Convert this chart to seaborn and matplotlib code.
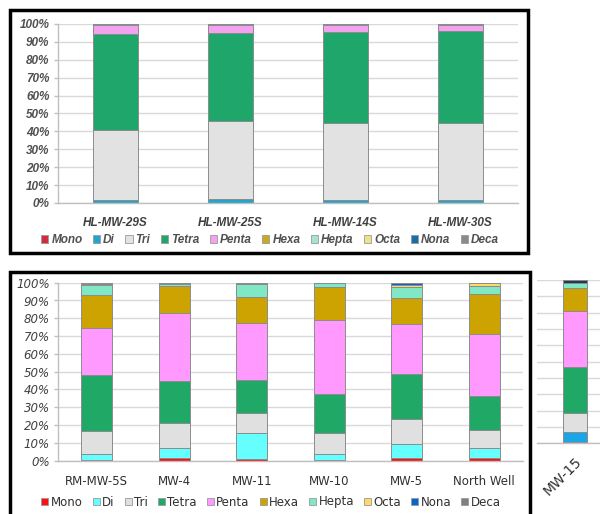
import numpy as np
import pandas as pd
import matplotlib
matplotlib.use("Agg")
import matplotlib.pyplot as plt
import seaborn as sns
from matplotlib.patches import Patch, Rectangle

sns.set_theme(style="white")
plt.rcParams["font.family"] = ["DejaVu Sans"]

W, H = 600, 514

# ---------------- data ----------------
groups = ["Mono", "Di", "Tri", "Tetra", "Penta", "Hexa", "Hepta", "Octa", "Nona", "Deca"]

# top panel (percent of total)
top_samples = ["HL-MW-29S", "HL-MW-25S", "HL-MW-14S", "HL-MW-30S"]
top_mono = [0.0, 0.0, 0.0, 0.0]
top_di = [1.5, 2.0, 1.5, 1.5]
top_tri = [39.3, 43.8, 43.0, 43.4]
top_tetra = [53.8, 49.3, 50.8, 51.1]
top_penta = [5.0, 4.5, 4.3, 3.6]
top_hexa = [0.0, 0.0, 0.0, 0.0]
top_hepta = [0.0, 0.0, 0.0, 0.0]
top_octa = [0.0, 0.0, 0.0, 0.0]
top_nona = [0.4, 0.4, 0.4, 0.4]
top_deca = [0.0, 0.0, 0.0, 0.0]

# bottom panel
bot_samples = ["RM-MW-5S", "MW-4", "MW-11", "MW-10", "MW-5", "North Well"]
bot_mono = [0.6, 1.5, 1.1, 0.3, 1.5, 1.5]
bot_di = [3.0, 5.6, 14.3, 3.4, 7.7, 5.6]
bot_tri = [12.9, 13.9, 11.2, 11.8, 14.0, 10.1]
bot_tetra = [31.4, 24.0, 18.7, 21.8, 25.5, 19.3]
bot_penta = [26.4, 38.1, 32.2, 41.7, 28.1, 34.7]
bot_hexa = [18.6, 15.0, 14.6, 18.8, 14.4, 22.4]
bot_hepta = [6.0, 1.1, 7.1, 1.8, 6.4, 4.5]
bot_octa = [0.4, 0.2, 0.2, 0.2, 1.3, 1.5]
bot_nona = [0.0, 0.6, 0.0, 0.0, 1.1, 0.0]
bot_deca = [0.7, 0.0, 0.6, 0.2, 0.0, 0.4]

# partial right panel
side_samples = ["MW-15"]
side_mono = [0.8]
side_di = [6.3]
side_tri = [11.3]
side_tetra = [28.1]
side_penta = [34.7]
side_hexa = [13.9]
side_hepta = [2.9]
side_octa = [0.3]
side_nona = [1.7]
side_deca = [0.0]

pct_ticks = list(range(0, 101, 10))
pct_labels = [f"{v}%" for v in pct_ticks]

top_series = dict(zip(groups, [top_mono, top_di, top_tri, top_tetra, top_penta,
                               top_hexa, top_hepta, top_octa, top_nona, top_deca]))
bot_series = dict(zip(groups, [bot_mono, bot_di, bot_tri, bot_tetra, bot_penta,
                               bot_hexa, bot_hepta, bot_octa, bot_nona, bot_deca]))
side_series = dict(zip(groups, [side_mono, side_di, side_tri, side_tetra, side_penta,
                                side_hexa, side_hepta, side_octa, side_nona, side_deca]))

top_colors = dict(zip(groups, ["#d42a3c", "#22a4cc", "#e2e2e2", "#1fa66a", "#f2a2ee",
                               "#c9aa1e", "#a6e2d0", "#ece28a", "#1a6ea6", "#8a8a8a"]))
bot_colors = dict(zip(groups, ["#ff1010", "#66ffff", "#e0e0e0", "#20a866", "#ff99ff",
                               "#cca300", "#80e8c4", "#ffd966", "#0a64c8", "#808080"]))
side_colors = dict(bot_colors)
side_colors["Di"] = "#1aa6e6"
side_colors["Nona"] = "#1f3a5a"


def fx(x):
    return x / W


def fy(y):
    return 1 - y / H


def stacked(ax, samples, series, colors, width):
    bottom = np.zeros(len(samples))
    for g in groups:
        vals = np.array(series[g], dtype=float)
        df = pd.DataFrame({"sample": samples, "value": vals})
        sns.barplot(data=df, x="sample", y="value", order=samples, color=colors[g],
                    saturation=1, bottom=bottom, width=width, errorbar=None,
                    edgecolor="#8c8c8c", linewidth=0.7, ax=ax)
        bottom = bottom + vals
    n = len(samples)
    ax.set_xlim(-0.5, n - 0.5)
    ax.set_ylim(0, 100)
    ax.set_xlabel("")
    ax.set_ylabel("")
    ax.set_axisbelow(True)
    ax.yaxis.grid(True, color="#d9d9d9", linewidth=1.0)
    ax.xaxis.grid(False)
    for s in ["top", "right"]:
        ax.spines[s].set_visible(False)
    for s in ["left", "bottom"]:
        ax.spines[s].set_color("#bfbfbf")
        ax.spines[s].set_linewidth(1.0)
    ax.set_xticks(np.arange(-0.5, n, 1.0), minor=True)
    ax.tick_params(axis="x", which="minor", length=4, color="#bfbfbf", width=1, direction="out")
    ax.tick_params(axis="x", which="major", length=0)
    ax.tick_params(axis="y", length=3, color="#bfbfbf", width=1, direction="out", left=True)
    ax.set_facecolor("white")


fig = plt.figure(figsize=(W / 100, H / 100), dpi=100)
fig.patch.set_facecolor("white")

# ---------- top panel ----------
ax1 = fig.add_axes([fx(58), fy(203), (518 - 58) / W, (203 - 24) / H])
stacked(ax1, top_samples, top_series, top_colors, 0.39)
ax1.set_yticks(pct_ticks)
ax1.set_yticklabels(pct_labels, family=["Liberation Sans"], style="italic",
                    fontweight="bold", fontsize=8.5, color="#505050")
ax1.set_xticks(range(len(top_samples)))
ax1.set_xticklabels(top_samples, family=["Liberation Sans"], style="italic",
                    fontweight="bold", fontsize=8.5, color="#404040")
ax1.tick_params(axis="x", which="major", pad=10)
ax1.tick_params(axis="y", pad=3)

h1 = [Patch(facecolor=top_colors[g], edgecolor="#9a9a9a", linewidth=0.6) for g in groups]
fig.legend(h1, groups, loc="center", bbox_to_anchor=(fx(270), fy(240)), ncol=10,
           frameon=False, handlelength=0.6, handleheight=0.6, handletextpad=0.25,
           columnspacing=0.9, borderaxespad=0,
           prop=dict(family="Liberation Sans", style="italic", weight="bold", size=8.5),
           labelcolor="#505050")

# ---------- bottom panel ----------
ax2 = fig.add_axes([fx(58), fy(460.7), (523 - 58) / W, (460.7 - 282.7) / H])
stacked(ax2, bot_samples, bot_series, bot_colors, 0.4)
ax2.set_yticks(pct_ticks)
ax2.set_yticklabels(pct_labels, style="italic", fontsize=8.5, color="#404040")
ax2.set_xticks(range(len(bot_samples)))
ax2.set_xticklabels(bot_samples, fontsize=8.5, color="#303030")
ax2.tick_params(axis="x", which="major", pad=10)
ax2.tick_params(axis="y", pad=3)

h2 = [Patch(facecolor=bot_colors[g], edgecolor="#9a9a9a", linewidth=0.6) for g in groups]
fig.legend(h2, groups, loc="center", bbox_to_anchor=(fx(271), fy(502)), ncol=10,
           frameon=False, handlelength=0.6, handleheight=0.6, handletextpad=0.2,
           columnspacing=0.85, borderaxespad=0,
           prop=dict(family="DejaVu Sans", size=8.5), labelcolor="#303030")

# ---------- partial right panel ----------
ax3 = fig.add_axes([fx(537), fy(443.3), (600 - 537) / W, (443.3 - 280) / H])
stacked(ax3, side_samples, side_series, side_colors, 0.4)
ax3.set_xlim(-0.633, 0.417)
ax3.set_yticks(pct_ticks)
ax3.set_yticklabels([])
ax3.tick_params(axis="y", length=0)
ax3.spines["left"].set_visible(False)
ax3.set_xticks([-0.5], minor=True)
ax3.set_xticks([0])
ax3.set_xticklabels(side_samples, rotation=45, ha="right", rotation_mode="anchor",
                    fontsize=10, color="#303030")
ax3.tick_params(axis="x", which="major", pad=8)

# frames
fig.add_artist(Rectangle((fx(10), fy(253)), (528 - 10) / W, (253 - 10) / H,
                         transform=fig.transFigure, fill=False, edgecolor="black",
                         linewidth=2.5))
fig.add_artist(Rectangle((fx(10), fy(530)), (530 - 10) / W, (530 - 272) / H,
                         transform=fig.transFigure, fill=False, edgecolor="black",
                         linewidth=2.5, clip_on=False))

fig.savefig("out.png", dpi=100)
